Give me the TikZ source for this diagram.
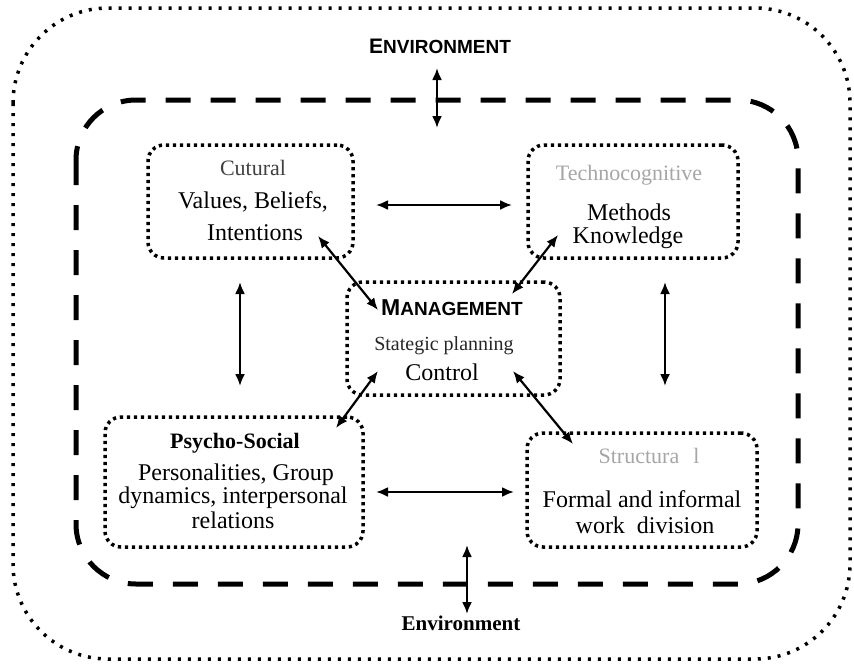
\documentclass[tikz,border=0pt]{standalone}
\usepackage{fontspec}
\setmainfont{Liberation Serif}
\newfontfamily\arialfont{Liberation Sans}
\usetikzlibrary{arrows.meta}
\begin{document}
\begin{tikzpicture}[x=1pt,y=-1pt,
  outerline/.style={line width=3.5pt, dash pattern=on 3pt off 7pt},
  dashline/.style={line width=5pt, dash pattern=on 25pt off 20pt},
  box/.style={draw, line width=3.5pt, dash pattern=on 3.2pt off 3.8pt, rounded corners=16pt, rectangle, inner sep=0pt},
  arr/.style={line width=2.2pt, {Latex[length=12pt,width=10pt]}-{Latex[length=12pt,width=10pt]}},
  txt/.style={inner sep=0pt, anchor=base, font=\fontsize{24}{26}\selectfont},
  ttl/.style={inner sep=0pt, anchor=base, font=\fontsize{22}{24}\selectfont},
  sml/.style={inner sep=0pt, anchor=base, font=\fontsize{20}{22}\selectfont}
]
\useasboundingbox (0,0) rectangle (854,664);
% outer environment boundary
\draw[outerline, rounded corners=95pt] (13,8) rectangle (850,659);
% organisation boundary
\draw[dashline, rounded corners=60pt] (76,100) rectangle (798,584);

% boxes
\node[box, minimum width=205pt, minimum height=113pt] (cult) at (250.5,201.5) {};
\node[box, minimum width=210pt, minimum height=113pt] (tech) at (633,201.5) {};
\node[box, minimum width=213pt, minimum height=113pt] (mgmt) at (453.5,338.5) {};
\node[box, minimum width=258pt, minimum height=130pt] (psy) at (234,482) {};
\node[box, minimum width=230pt, minimum height=114pt] (str) at (642,490) {};

% texts
\node[ttl, text=black!75] (cultA) at (253,175) {Cutural};
\node[txt] (cultB) at (253,208) {Values, Beliefs,};
\node[txt] (cultC) at (255,240) {Intentions};

\node[ttl, text=black!35] (techA) at (629,180) {Technocognitive};
\node[txt] (techB) at (629,220) {Methods};
\node[txt] (techC) at (628,243) {Knowledge};

\node[inner sep=0pt, anchor=base, font=\arialfont\bfseries] (mgmtA) at (452,315) {{\fontsize{23}{24}\selectfont M}{\fontsize{19}{20}\selectfont ANAGEMENT}};
\node[sml, text=black!85] (mgmtB) at (444,350) {Stategic planning};
\node[txt] (mgmtC) at (442,380) {Control};

\node[ttl, font=\fontsize{22}{24}\selectfont\bfseries] (psyA) at (235,448) {Psycho-Social};
\node[txt] (psyB) at (236,480) {Personalities, Group};
\node[txt] (psyC) at (233,503) {dynamics, interpersonal};
\node[txt] (psyD) at (233,528) {relations};

\node[ttl, text=black!35] (strA) at (649,463) {Structura\hspace{14pt}l};
\node[txt] (strB) at (642,507) {Formal and informal};
\node[txt] (strC) at (645,533) {work\hspace{12pt}division};

\node[inner sep=0pt, anchor=base, font=\arialfont\bfseries] (envT) at (440,53) {{\fontsize{21}{22}\selectfont E}{\fontsize{19}{20}\selectfont NVIRONMENT}};
\node[inner sep=0pt, anchor=base, font=\fontsize{21}{22}\selectfont\bfseries] (envB) at (461,630) {Environment};

% arrow end points
\coordinate (eT1) at (437,68);
\coordinate (eT2) at (437,128);
\coordinate (eB1) at (467,545);
\coordinate (eB2) at (467,614);
\coordinate (ct1) at (376,205);
\coordinate (ct2) at (512,205);
\coordinate (ps1) at (376,492);
\coordinate (ps2) at (514,492);
\coordinate (cp1) at (240,282);
\coordinate (cp2) at (240,386);
\coordinate (ts1) at (665,282);
\coordinate (ts2) at (665,386);
\coordinate (cm1) at (318,236);
\coordinate (cm2) at (378,310);
\coordinate (tm1) at (558,235);
\coordinate (tm2) at (512,294);
\coordinate (pm1) at (336,428);
\coordinate (pm2) at (378,371);
\coordinate (sm1) at (573,444);
\coordinate (sm2) at (513,371);

\draw[arr] (eT1) -- (eT2);
\draw[arr] (eB1) -- (eB2);
\draw[arr] (ct1) -- (ct2);
\draw[arr] (ps1) -- (ps2);
\draw[arr] (cp1) -- (cp2);
\draw[arr] (ts1) -- (ts2);
\draw[arr] (cm1) -- (cm2);
\draw[arr] (tm1) -- (tm2);
\draw[arr] (pm1) -- (pm2);
\draw[arr] (sm1) -- (sm2);
\end{tikzpicture}
\end{document}
